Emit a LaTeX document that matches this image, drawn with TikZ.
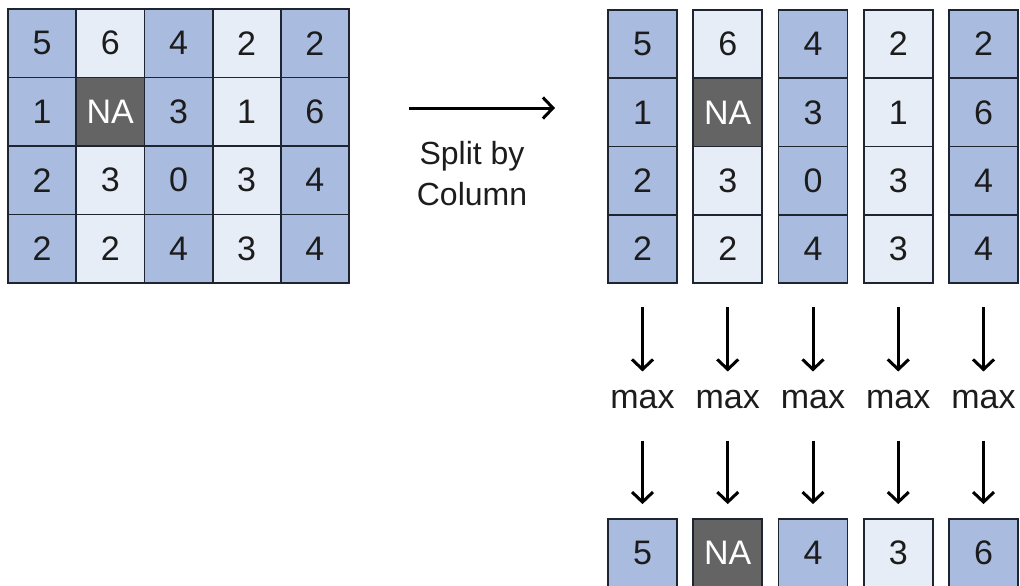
\documentclass[tikz,border=0pt]{standalone}
\usepackage{fontspec}
\setmainfont{Liberation Sans}
\usetikzlibrary{arrows.meta}
\definecolor{cblue}{HTML}{A9BCE0}
\definecolor{clight}{HTML}{E7EDF7}
\definecolor{cdark}{HTML}{646464}
\definecolor{cline}{HTML}{1E2430}
\definecolor{ctext}{HTML}{1C1C1C}
\begin{document}
\begin{tikzpicture}[x=1pt,y=-1pt,
  cell/.style={draw=cline,line width=1.8pt,minimum width=68.2pt,minimum height=68.4pt,
    inner sep=0pt,font=\fontsize{34}{40}\selectfont,text=ctext},
  bl/.style={fill=cblue},
  lt/.style={fill=clight},
  na/.style={fill=cdark,text=white},
  maxlbl/.style={inner sep=0pt,font=\fontsize{34}{40}\selectfont,text=ctext},
  arr/.style={line width=3pt,draw=black,-{Straight Barb[length=10pt,width=21pt,line width=3pt]}},
  lbl/.style={align=center,font=\fontsize{32}{41}\selectfont,text=ctext,inner sep=0pt}]
\useasboundingbox (0,0) rectangle (1020,586);
\clip (0,0) rectangle (1020,586);
% matrix and split columns
\foreach \r/\row in {1/{5/bl,6/lt,4/bl,2/lt,2/bl},
                     2/{1/bl,NA/na,3/bl,1/lt,6/bl},
                     3/{2/bl,3/lt,0/bl,3/lt,4/bl},
                     4/{2/bl,2/lt,4/bl,3/lt,4/bl}} {
  \foreach \v/\s [count=\c] in \row {
    \node[cell,\s] (g\r\c) at ({8+68.2*(\c-0.5)},{9+68.5*(\r-0.5)}) {\v};
    \node[cell,\s,minimum width=69pt,minimum height=68.2pt] (k\r\c)
      at ({608+85.25*(\c-1)+34.5},{10+68.25*(\r-0.5)}) {\v};
  }
}
% split arrow
\coordinate (splitA) at (409,108);
\coordinate (splitB) at (555,108);
\draw[arr] (splitA) -- (splitB);
\node[lbl] (splitlbl) at (472,174) {Split by\\Column};
% max and results
\foreach \v/\s [count=\c] in {5/bl,NA/na,4/bl,3/lt,6/bl} {
  \node[maxlbl] (m\c) at ({608+85.25*(\c-1)+34.5},400) {max};
  \node[cell,\s,minimum width=69pt,minimum height=68pt] (res\c)
    at ({608+85.25*(\c-1)+34.5},553) {\v};
  \draw[arr,shorten <=23pt,shorten >=19pt] (k4\c.south) -- (m\c.north);
  \draw[arr,shorten <=31pt,shorten >=14pt] (m\c.south) -- (res\c.north);
}
\end{tikzpicture}
\end{document}
